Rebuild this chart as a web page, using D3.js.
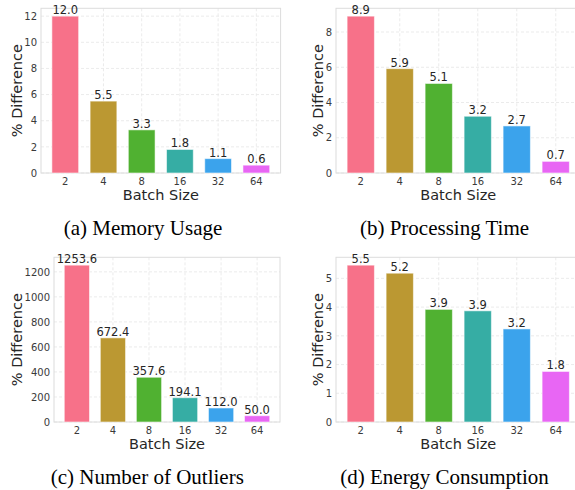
<!DOCTYPE html>
<html>
<head>
<meta charset="utf-8">
<script src="https://cdn.jsdelivr.net/npm/d3@7"></script>
<style>
  html, body { margin: 0; padding: 0; background: #fff; }
  svg { display: block; }
</style>
</head>
<body>
<svg id="chart" width="575" height="490"></svg>
<script>
// ---- data ----
const batchSizes = ["2", "4", "8", "16", "32", "64"];
const memoryUsage = [12.0, 5.5, 3.3, 1.8, 1.1, 0.6];
const processingTime = [8.9, 5.92, 5.08, 3.22, 2.67, 0.66];
const numberOfOutliers = [1253.6, 672.4, 357.6, 194.1, 112.0, 50.0];
const energyConsumption = [5.46, 5.18, 3.92, 3.87, 3.24, 1.76];
const memoryTicks = [0, 2, 4, 6, 8, 10, 12];
const processingTicks = [0, 2, 4, 6, 8];
const outlierTicks = [0, 200, 400, 600, 800, 1000, 1200];
const energyTicks = [0, 1, 2, 3, 4, 5];
const captions = ["(a) Memory Usage", "(b) Processing Time", "(c) Number of Outliers", "(d) Energy Consumption"];
const xLabel = "Batch Size";
const yLabel = "% Difference";
const barColors = ["#f77189", "#bb9832", "#50b131", "#36ada4", "#3ba3ec", "#e866f4"];

// ---- layout ----
const panels = [
  { values: memoryUsage, ticks: memoryTicks, caption: captions[0],
    left: 41, right: 280.6, top: 8.3, bottom: 173, yLabelX: 22, capX: 143, capY: 235 },
  { values: processingTime, ticks: processingTicks, caption: captions[1],
    left: 336, right: 580.5, top: 8.3, bottom: 173, yLabelX: 323, capX: 444.5, capY: 235 },
  { values: numberOfOutliers, ticks: outlierTicks, caption: captions[2],
    left: 54, right: 280, top: 257.3, bottom: 422, yLabelX: 22, capX: 147.3, capY: 484 },
  { values: energyConsumption, ticks: energyTicks, caption: captions[3],
    left: 336, right: 580.5, top: 257.3, bottom: 422, yLabelX: 323, capX: 444.5, capY: 484 }
];

const svg = d3.select("#chart");
const sans = "'DejaVu Sans', sans-serif";
const serif = "'Liberation Serif', 'Times New Roman', serif";

panels.forEach(p => {
  const g = svg.append("g");
  const x = d3.scaleBand().domain(batchSizes).range([p.left, p.right])
    .paddingInner(0.3).paddingOuter(0.285);
  const y = d3.scaleLinear().domain([0, d3.max(p.values) * 1.05]).range([p.bottom, p.top]);

  // grid
  g.append("g").selectAll("line").data(p.ticks).join("line")
    .attr("x1", p.left).attr("x2", p.right)
    .attr("y1", d => y(d)).attr("y2", d => y(d))
    .attr("stroke", "#e6e6e6").attr("stroke-width", 0.8).attr("stroke-dasharray", "3,2");
  g.append("g").selectAll("line").data(batchSizes).join("line")
    .attr("x1", d => x(d) + x.bandwidth() / 2).attr("x2", d => x(d) + x.bandwidth() / 2)
    .attr("y1", p.top).attr("y2", p.bottom)
    .attr("stroke", "#e6e6e6").attr("stroke-width", 0.8).attr("stroke-dasharray", "3,2");

  // frame
  g.append("rect").attr("x", p.left).attr("y", p.top)
    .attr("width", p.right - p.left).attr("height", p.bottom - p.top)
    .attr("fill", "none").attr("stroke", "#dcdcdc").attr("stroke-width", 1);

  // bars
  g.append("g").selectAll("rect").data(p.values).join("rect")
    .attr("x", (d, i) => x(batchSizes[i]))
    .attr("y", d => y(d))
    .attr("width", x.bandwidth())
    .attr("height", d => y(0) - y(d))
    .attr("fill", (d, i) => barColors[i])
    .attr("stroke", "#ffffff").attr("stroke-opacity", 0.55).attr("stroke-width", 1);

  // value labels
  g.append("g").selectAll("text").data(p.values).join("text")
    .attr("x", (d, i) => x(batchSizes[i]) + x.bandwidth() / 2)
    .attr("y", d => y(d) - 2)
    .attr("text-anchor", "middle")
    .attr("font-family", sans).attr("font-size", 11.5).attr("fill", "#262626")
    .text(d => d.toFixed(1));

  // y axis
  const yAxis = d3.axisLeft(y).tickValues(p.ticks).tickSize(0).tickPadding(4).tickFormat(d3.format("d"));
  const ya = g.append("g").attr("transform", `translate(${p.left},0)`).call(yAxis);
  ya.select(".domain").remove();
  ya.selectAll("text").attr("font-family", sans).attr("font-size", 10).attr("fill", "#3a3a3a");

  // x axis
  const xAxis = d3.axisBottom(x).tickSize(0).tickPadding(5);
  const xa = g.append("g").attr("transform", `translate(0,${p.bottom})`).call(xAxis);
  xa.select(".domain").remove();
  xa.selectAll("text").attr("font-family", sans).attr("font-size", 10).attr("fill", "#3a3a3a");

  // axis titles
  g.append("text")
    .attr("x", (p.right + p.left) / 2)
    .attr("y", p.bottom + 26.5)
    .attr("text-anchor", "middle")
    .attr("font-family", sans).attr("font-size", 14.5).attr("fill", "#262626")
    .text(xLabel);
  g.append("text")
    .attr("transform", `translate(${p.yLabelX},${(p.top + p.bottom) / 2}) rotate(-90)`)
    .attr("text-anchor", "middle")
    .attr("font-family", sans).attr("font-size", 14.5).attr("fill", "#262626")
    .text(yLabel);

  // caption
  g.append("text")
    .attr("x", p.capX).attr("y", p.capY)
    .attr("text-anchor", "middle")
    .attr("font-family", serif).attr("font-size", 21).attr("fill", "#000")
    .text(p.caption);
});
</script>
</body>
</html>
